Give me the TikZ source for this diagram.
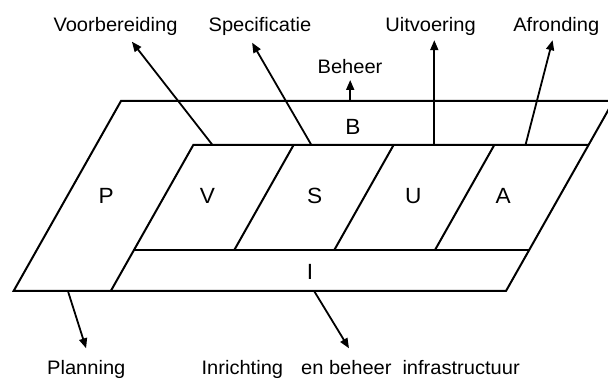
\documentclass[tikz,border=0pt]{standalone}
\usepackage{fontspec}
\setmainfont{Liberation Sans}[FakeStretch=1.03]
\usetikzlibrary{
	arrows.meta,
	calc,
	}

\begin{document}
\begin{tikzpicture}[x=1pt,y=1pt,line width=2pt,
	pijl/.style={-{Triangle[length=10pt,width=8pt]},line width=1.8pt},
	lbl/.style={font=\fontsize{19.5}{22}\selectfont,inner sep=0pt,anchor=base},
	vak/.style={font=\fontsize{22}{24}\selectfont,inner sep=0pt,anchor=base}]
\useasboundingbox (0,0) rectangle (608,379);

	% vlakken
	\draw (13.6,88) -- (121,278) -- (613.4,278) -- (506,88) -- cycle;
	\draw (110.8,88) -- (193.3,234) -- (588.5,234);
	\draw (134,129) -- (529.2,129);
	\foreach \x in {234.3,334.3,435}
		\draw (\x,129) -- ++(59.3,105);

	\node[vak] (P) at (106.3,175.7) {P};
	\node[vak] (V) at (207.5,175.7) {V};
	\node[vak] (S) at (314.8,175.7) {S};
	\node[vak] (U) at (413.3,175.7) {U};
	\node[vak] (A) at (503.3,175.7) {A};
	\node[vak] (B) at (353,244.3) {B};
	\node[vak] (I) at (310,99.3) {I};

	% teksten
	\node[lbl] (voor) at (115.5,347.3) {Voorbereiding};
	\node[lbl] (spec) at (260,347.3) {Specificatie};
	\node[lbl] (uitv) at (430.5,347.3) {Uitvoering};
	\node[lbl] (afr) at (556.3,347.3) {Afronding};
	\node[lbl] (beh) at (350,305.7) {Beheer};
	\node[lbl] (plan) at (86.3,4.7) {Planning};
	\node[lbl] (inr) at (360.7,4.7) {Inrichting\hspace{18pt}en beheer\hspace{11pt}infrastructuur};

	\coordinate (vS) at (212.5,234);
	\coordinate (sS) at (311.4,234);
	\coordinate (uS) at (434.3,234);
	\coordinate (aS) at (525.5,234);
	\coordinate (bS) at (350.2,278);
	\coordinate (pS) at (67.9,88);
	\coordinate (iS) at (314.1,88);

	\draw[pijl] (vS) -- ([xshift=16.4,yshift=-10]voor.base);
	\draw[pijl] (sS) -- ([xshift=-7.9,yshift=-11]spec.base);
	\draw[pijl] (uS) -- ([xshift=3.8,yshift=-8.5]uitv.base);
	\draw[pijl] (aS) -- ([xshift=-3.7,yshift=-8.5]afr.base);
	\draw[pijl] (bS) -- ([xshift=0.2,yshift=-6.7]beh.base);
	\draw[pijl] (pS) -- ([xshift=-0.2,yshift=26]plan.base);
	\draw[pijl] (iS) -- ([xshift=-11.7,yshift=26]inr.base);
\end{tikzpicture}
\end{document}
